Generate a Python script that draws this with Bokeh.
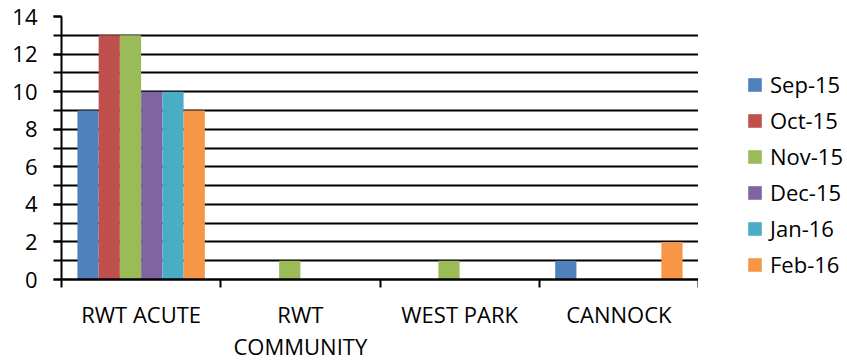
from bokeh.plotting import figure
from bokeh.layouts import row
from bokeh.models import (Range1d, LinearAxis, FixedTicker,
                          SingleIntervalTicker, Legend, LegendItem, ColumnDataSource, Grid)
from bokeh.embed import file_html
from bokeh.resources import INLINE

categories = ["RWT ACUTE", "RWT COMMUNITY", "WEST PARK", "CANNOCK"]
category_labels = ["RWT ACUTE", "RWT\nCOMMUNITY", "WEST PARK", "CANNOCK"]
series_names = ["Sep-15", "Oct-15", "Nov-15", "Dec-15", "Jan-16", "Feb-16"]
sep_15 = [9, 0, 0, 1]
oct_15 = [13, 0, 0, 0]
nov_15 = [13, 1, 1, 0]
dec_15 = [10, 0, 0, 0]
jan_16 = [10, 0, 0, 0]
feb_16 = [9, 0, 0, 2]
series_values = [sep_15, oct_15, nov_15, dec_15, jan_16, feb_16]
colors = ["#4F81BD", "#C0504D", "#9BBB59", "#8064A2", "#4BACC6", "#F79646"]
y_max = 14

FONT = "Open Sans"
ncat = len(categories)

p = figure(width=698, height=363, output_backend="svg", toolbar_location=None,
           x_range=Range1d(0, ncat), y_range=Range1d(0, y_max),
           x_axis_location=None, y_axis_location=None,
           min_border_left=61, min_border_top=16, min_border_right=0, min_border_bottom=20)
p.outline_line_color = None
p.background_fill_color = "white"
p.border_fill_color = "white"

# y axis
yax = LinearAxis(ticker=SingleIntervalTicker(interval=2, num_minor_ticks=2))
yax.axis_line_color = "black"
yax.axis_line_width = 2
yax.major_tick_in = 0
yax.major_tick_out = 8
yax.minor_tick_in = 0
yax.minor_tick_out = 8
yax.major_tick_line_color = "black"
yax.minor_tick_line_color = "black"
yax.major_tick_line_width = 2
yax.minor_tick_line_width = 2
yax.major_label_text_font = FONT
yax.major_label_text_font_size = "22px"
yax.major_label_text_color = "black"
yax.major_label_standoff = 16
p.add_layout(yax, "left")

# grid
p.xgrid.grid_line_color = None
p.ygrid.grid_line_color = None
g = Grid(dimension=1, ticker=SingleIntervalTicker(interval=1), grid_line_color="black", grid_line_width=2)
p.add_layout(g, "center")

# x axis: labels at category centers, tick marks at category boundaries
bounds = list(range(ncat + 1))
centers = [i + 0.5 for i in range(ncat)]
xax = LinearAxis(ticker=FixedTicker(ticks=centers, minor_ticks=bounds))
xax.axis_line_color = "black"
xax.axis_line_width = 2.5
xax.major_tick_line_color = None
xax.major_tick_in = 0
xax.major_tick_out = 8
xax.minor_tick_line_color = "black"
xax.minor_tick_line_width = 2
xax.minor_tick_in = 0
xax.minor_tick_out = 8
xax.major_label_text_font = FONT
xax.major_label_text_font_size = "22px"
xax.major_label_text_color = "black"
xax.major_label_text_line_height = 1.07
xax.major_label_standoff = 11
xax.major_label_overrides = {c: lab for c, lab in zip(centers, category_labels)}
p.add_layout(xax, "below")

n = len(series_names)
group = 0.8
bw = group / n
renderers = []
for i, (name, col, vals) in enumerate(zip(series_names, colors, series_values)):
    off = -group / 2 + bw * (i + 0.5)
    src = ColumnDataSource(dict(x=[c + off for c in centers], top=vals))
    r = p.vbar(x="x", top="top", width=bw, bottom=0, source=src, fill_color=col, line_color=None)
    renderers.append(r)

# legend panel
pl = figure(width=149, height=363, output_backend="svg", toolbar_location=None,
            x_range=Range1d(0, 1), y_range=Range1d(0, 1),
            x_axis_location=None, y_axis_location=None,
            min_border_left=0, min_border_right=0, min_border_top=0, min_border_bottom=0)
pl.outline_line_color = None
pl.xgrid.grid_line_color = None
pl.ygrid.grid_line_color = None
items = []
for name, col in zip(series_names, colors):
    r = pl.vbar(x=[-5], top=[-5], bottom=[-6], width=0.1, fill_color=col, line_color=None)
    items.append(LegendItem(label=name, renderers=[r]))

legend = Legend(items=items, location=(48, 0))
legend.glyph_width = 17
legend.glyph_height = 17
legend.spacing = 6
legend.label_standoff = 7
legend.label_text_font = FONT
legend.label_text_font_size = "22px"
legend.label_text_color = "black"
legend.label_height = 17
legend.padding = 0
legend.margin = 0
legend.border_line_color = None
legend.background_fill_alpha = 0
pl.add_layout(legend, "center")

layout = row(p, pl)
open("out.html", "w").write(file_html(layout, INLINE))
